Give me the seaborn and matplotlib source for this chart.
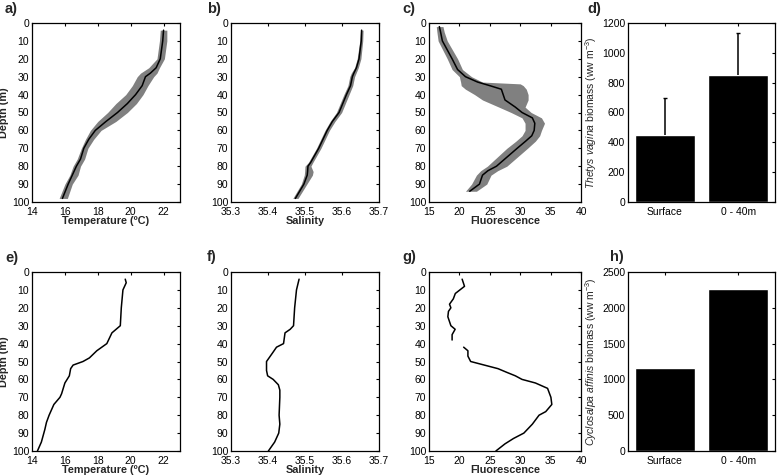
import numpy as np
import pandas as pd
import matplotlib
matplotlib.use("Agg")
import matplotlib.pyplot as plt
import seaborn as sns

# ---- station 1 (mean profile with spread) ----
depth_t1 = [4, 10, 20, 25, 28, 30, 35, 40, 45, 50, 55, 60, 65, 70, 76, 80, 85, 90, 98]
temp_mean = [22.0, 21.95, 21.8, 21.55, 21.2, 20.9, 20.7, 20.3, 19.8, 19.2, 18.5, 17.85,
             17.45, 17.15, 16.95, 16.7, 16.45, 16.2, 15.85]
temp_lo = [21.8, 21.75, 21.6, 21.1, 20.6, 20.4, 20.1, 19.7, 19.1, 18.6, 18.0, 17.55,
           17.25, 17.0, 16.75, 16.5, 16.3, 16.0, 15.65]
temp_hi = [22.2, 22.2, 22.05, 21.75, 21.6, 21.4, 21.05, 20.75, 20.35, 19.8, 19.1, 18.2,
           17.75, 17.4, 17.2, 16.95, 16.8, 16.45, 16.15]

depth_s1 = [4, 10, 20, 25, 28, 30, 35, 40, 50, 55, 60, 70, 78, 80, 83, 85, 90, 98]
sal_mean = [35.653, 35.652, 35.646, 35.639, 35.632, 35.628, 35.623, 35.612, 35.592, 35.574,
            35.560, 35.537, 35.515, 35.508, 35.507, 35.506, 35.497, 35.474]
sal_lo = [35.650, 35.648, 35.641, 35.634, 35.625, 35.621, 35.616, 35.605, 35.585, 35.568,
          35.554, 35.531, 35.509, 35.500, 35.499, 35.498, 35.490, 35.467]
sal_hi = [35.657, 35.656, 35.651, 35.644, 35.638, 35.634, 35.629, 35.619, 35.599, 35.581,
          35.566, 35.543, 35.521, 35.516, 35.522, 35.520, 35.505, 35.481]

depth_f1 = [2, 5, 10, 20, 26, 30, 33, 34, 35, 37, 40, 43, 47, 50, 53, 56, 60, 63, 66,
            70, 75, 80, 82.5, 85, 90, 94]
fluo_mean = [16.7, 16.9, 17.2, 18.8, 19.7, 21.0, 23.0, 24.0, 25.0, 26.9, 27.2, 27.5,
             29.2, 30.3, 32.0, 32.4, 32.3, 31.9, 30.9, 29.5, 27.8, 26.1, 24.7, 23.8,
             23.3, 21.7]
fluo_lo = [16.2, 16.3, 16.5, 18.0, 18.8, 20.0, 20.2, 20.25, 20.3, 21.0, 22.5, 23.8,
           26.5, 28.5, 30.3, 30.8, 30.8, 30.3, 29.3, 27.8, 26.2, 24.6, 23.5, 22.8,
           22.0, 21.0]
fluo_hi = [17.3, 17.5, 18.0, 19.7, 20.5, 22.0, 23.8, 30.0, 30.5, 31.0, 31.3, 31.3,
           30.8, 31.8, 33.5, 34.0, 33.5, 33.2, 32.5, 31.2, 29.5, 27.8, 26.3, 25.2,
           24.5, 22.8]

# ---- station 2 (single cast) ----
depth_t2 = [4, 6, 10, 20, 30, 34, 40, 44, 48, 50, 52, 54, 58, 62, 68, 70, 74, 80, 84,
            88, 95, 100]
temp_2 = [19.67, 19.73, 19.53, 19.43, 19.37, 18.86, 18.55, 17.94, 17.49, 17.1, 16.5,
          16.35, 16.27, 16.0, 15.8, 15.7, 15.33, 15.04, 14.88, 14.78, 14.57, 14.33]

depth_s2 = [4, 10, 20, 30, 32, 34, 40, 42, 45, 50, 55, 58, 60, 63, 66, 70, 80, 85, 90,
            95, 100]
sal_2 = [35.484, 35.477, 35.472, 35.469, 35.460, 35.446, 35.442, 35.423, 35.413, 35.396,
         35.396, 35.399, 35.414, 35.428, 35.432, 35.432, 35.430, 35.432, 35.429, 35.418,
         35.401]

depth_f2a = [4, 8, 12, 15, 18, 20, 22, 25, 30, 32, 35, 38]
fluo_2a = [20.45, 20.84, 19.33, 19.0, 18.37, 18.6, 18.2, 18.1, 18.6, 19.3, 18.8, 18.8]
depth_f2b = [42, 44, 47, 50, 52, 54, 56, 58, 60, 62, 65, 70, 74, 78, 80, 85, 90, 93, 96, 100]
fluo_2b = [20.7, 21.4, 21.4, 21.85, 24.1, 26.35, 27.75, 29.2, 30.3, 32.5, 34.5, 35.05,
           35.2, 34.2, 33.1, 32.0, 30.6, 28.9, 27.5, 26.0]

# ---- biomass bars ----
bar_cats = ["Surface", "0 - 40m"]
thetys_biomass = [448, 852]
thetys_err = [246, 282]
cyclosalpa_biomass = [1160, 2265]

sns.set_style("white")
plt.rcParams["font.family"] = ["Liberation Sans", "DejaVu Sans"]
plt.rcParams["mathtext.fontset"] = "custom"
plt.rcParams["mathtext.rm"] = "Liberation Sans"
plt.rcParams["mathtext.it"] = "Liberation Sans:italic"
plt.rcParams["axes.edgecolor"] = "black"
plt.rcParams["axes.linewidth"] = 0.9

fig = plt.figure(figsize=(7.77, 4.75), dpi=100)
W, H = 777.0, 475.0


def make_ax(left_px, top_px, w_px=148, h_px=179):
    return fig.add_axes([left_px / W, 1 - (top_px + h_px) / H, w_px / W, h_px / H])


def style_ax(ax):
    ax.tick_params(direction="in", length=2.5, width=0.8, top=True, right=True,
                   labelsize=7.5, colors="black")
    ax.tick_params(axis="x", pad=3.5)
    ax.tick_params(axis="y", pad=2)
    for s in ax.spines.values():
        s.set_color("black")


def profile(ax, x, depth, xlim, xticks, xlabel, lo=None, hi=None, ylabel=True):
    if lo is not None:
        ax.fill_betweenx(depth, lo, hi, color="#808080", lw=0)
    df = pd.DataFrame({"x": x, "depth": depth})
    sns.lineplot(data=df, x="x", y="depth", orient="y", estimator=None, sort=False,
                 color="black", lw=1.1, ax=ax)
    ax.set_xlim(*xlim)
    ax.set_ylim(100, 0)
    ax.set_xticks(xticks)
    ax.set_yticks(range(0, 101, 10))
    ax.set_xlabel(xlabel, fontsize=7.8, fontweight="bold", labelpad=-0.5)
    ax.set_ylabel("Depth (m)" if ylabel else "", fontsize=7.8, fontweight="bold", labelpad=2)
    style_ax(ax)


lefts = [32, 231, 429, 628]
tops = [23, 272]

# top row
ax = make_ax(lefts[0], tops[0])
profile(ax, temp_mean, depth_t1, (14, 23), [14, 16, 18, 20, 22], "Temperature (ºC)",
        temp_lo, temp_hi)
ax = make_ax(lefts[1], tops[0])
profile(ax, sal_mean, depth_s1, (35.3, 35.7), [35.3, 35.4, 35.5, 35.6, 35.7], "Salinity",
        sal_lo, sal_hi, ylabel=False)
ax.set_xticklabels(["35.3", "35.4", "35.5", "35.6", "35.7"])
ax = make_ax(lefts[2], tops[0], w_px=152)
profile(ax, fluo_mean, depth_f1, (15, 40), [15, 20, 25, 30, 35, 40], "Fluorescence",
        fluo_lo, fluo_hi, ylabel=False)

# bottom row
ax = make_ax(lefts[0], tops[1])
profile(ax, temp_2, depth_t2, (14, 23), [14, 16, 18, 20, 22], "Temperature (ºC)")
ax = make_ax(lefts[1], tops[1])
profile(ax, sal_2, depth_s2, (35.3, 35.7), [35.3, 35.4, 35.5, 35.6, 35.7], "Salinity",
        ylabel=False)
ax.set_xticklabels(["35.3", "35.4", "35.5", "35.6", "35.7"])
ax = make_ax(lefts[2], tops[1], w_px=152)
seg = pd.DataFrame({"x": fluo_2a + fluo_2b, "depth": depth_f2a + depth_f2b,
                    "seg": [0] * len(fluo_2a) + [1] * len(fluo_2b)})
sns.lineplot(data=seg, x="x", y="depth", units="seg", orient="y", estimator=None,
             sort=False, color="black", lw=1.1, ax=ax)
ax.set_xlim(15, 40)
ax.set_ylim(100, 0)
ax.set_xticks([15, 20, 25, 30, 35, 40])
ax.set_yticks(range(0, 101, 10))
ax.set_xlabel("Fluorescence", fontsize=7.8, fontweight="bold", labelpad=-0.5)
ax.set_ylabel("")
style_ax(ax)


def bars(ax, vals, ylim, yticks, ylabel, err=None):
    sns.barplot(x=bar_cats, y=vals, color="black", saturation=1, width=0.82, ax=ax)
    if err is not None:
        _, caps, _ = ax.errorbar(x=[0, 1], y=vals, yerr=[np.zeros(len(err)), err],
                                 fmt="none", ecolor="black", elinewidth=1.1,
                                 capsize=1.5, capthick=1)
        caps[0].set_visible(False)
    ax.set_xlim(-0.5, 1.5)
    ax.set_ylim(*ylim)
    ax.set_yticks(yticks)
    ax.set_ylabel(ylabel, fontsize=7.5, labelpad=2)
    ax.set_xlabel("")
    style_ax(ax)


ax = make_ax(lefts[3], tops[0], w_px=147)
bars(ax, thetys_biomass, (0, 1200), range(0, 1201, 200),
     r"$\it{Thetys\ vagina}$ biomass (ww m$^{-3}$)", thetys_err)
ax = make_ax(lefts[3], tops[1], w_px=147)
bars(ax, cyclosalpa_biomass, (0, 2500), range(0, 2501, 500),
     r"$\it{Cyclosalpa\ affinis}$ biomass (ww m$^{-3}$)")

# panel letters
letters = [("a)", 5, 2), ("b)", 207, 2), ("c)", 402, 2), ("d)", 587, 2),
           ("e)", 5, 251), ("f)", 207, 250), ("g)", 402, 250), ("h)", 610, 250)]
for lab, xp, yp in letters:
    fig.text(xp / W, 1 - yp / H, lab, fontsize=10.5, fontweight="bold", va="top", ha="left")

fig.savefig("out.png", dpi=100, facecolor="white")
